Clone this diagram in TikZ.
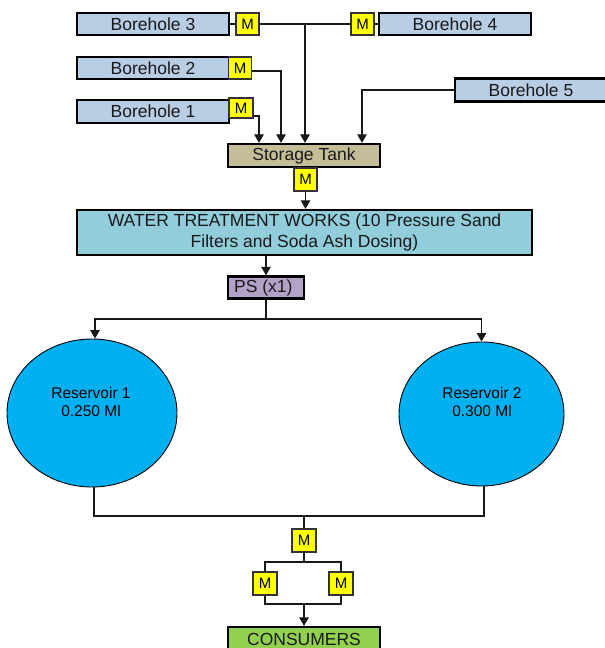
\documentclass[tikz,border=0pt]{standalone}
\usepackage{fontspec}
\setmainfont{Liberation Sans}
\usetikzlibrary{arrows.meta,shapes.geometric}
\definecolor{bhblue}{HTML}{B9CDE5}
\definecolor{tankcol}{HTML}{C4BD97}
\definecolor{wtwcol}{HTML}{92CDDC}
\definecolor{pscol}{HTML}{B3A2C7}
\definecolor{rescol}{HTML}{00B0F0}
\definecolor{concol}{HTML}{92D050}
\definecolor{mcol}{HTML}{FFFF00}
\tikzset{
  box/.style={draw=black, line width=2.3pt, inner sep=0pt, minimum height=22pt,
    font=\fontsize{17.5}{21}\selectfont, text=black!90},
  bore/.style={box, fill=bhblue, minimum width=152pt},
  meter/.style={draw=black!80, line width=1.1pt, fill=mcol, inner sep=0pt,
    minimum width=23pt, minimum height=22pt, font=\fontsize{15}{18}\selectfont},
  res/.style={ellipse, draw=black, line width=0.9pt, fill=rescol, inner sep=0pt,
    font=\fontsize{15.5}{18}\selectfont, align=center},
  pipe/.style={draw=black!90, line width=1.2pt},
  flow/.style={pipe, -{Triangle[width=9.5pt,length=8.5pt]}}
}
\begin{document}
\begin{tikzpicture}[x=1pt,y=-1pt]
\clip (0,0) rectangle (605,648);
\fill[white] (0,0) rectangle (605,648);

% boreholes and meters
\node[bore] (b3) at (153,24) {Borehole 3};
\node[meter] (m3) at (247.5,24) {M};
\node[meter] (m4) at (362.5,24) {M};
\node[bore] (b4) at (455,24) {Borehole 4};
\node[bore] (b2) at (153,68) {Borehole 2};
\node[meter] (m2) at (240,68) {M};
\node[bore, minimum height=23pt] (b1) at (153,111.5) {Borehole 1};
\node[meter, minimum width=24pt, minimum height=20pt] (m1) at (241,108) {M};
\node[bore, minimum height=23pt] (b5) at (531,90) {Borehole 5};

% storage tank
\node[box, fill=tankcol, minimum width=152pt, minimum height=23pt] (tank) at (304,155.5) {Storage Tank};
\node[meter, minimum height=23pt] (mt) at (305.5,179.5) {M};

% treatment works
\node[box, fill=wtwcol, minimum width=455pt, minimum height=45pt, align=center,
  font=\fontsize{17.5}{21}\selectfont] (wtw) at (304.5,232.5)
  {WATER TREATMENT WORKS (10 Pressure Sand\\Filters and Soda Ash Dosing)};

% pump station
\node[box, fill=pscol, minimum width=76pt] (ps) at (266,287.5) {};
\node[font=\fontsize{17.5}{21}\selectfont, text=black!90, anchor=west, inner sep=0pt] (pst) at (234,287.5) {PS (x1)};

% reservoirs
\node[res, minimum width=170pt, minimum height=148pt] (r1) at (92,413) {};
\node[font=\fontsize{15.5}{18}\selectfont, align=center] (r1t) at (91,402) {Reservoir 1\\0.250 Ml};
\node[res, minimum width=165pt, minimum height=144pt] (r2) at (481.5,414) {};
\node[font=\fontsize{15.5}{18}\selectfont, align=center] (r2t) at (482,402) {Reservoir 2\\0.300 Ml};

% meters to consumers
\node[meter, minimum width=24pt, minimum height=23pt] (mb) at (304,540.5) {M};
\node[meter, minimum width=24pt, minimum height=23pt] (ml) at (265,583.5) {M};
\node[meter, minimum width=24pt, minimum height=23pt] (mr) at (341,583.5) {M};
\node[box, fill=concol, minimum width=152pt, minimum height=24pt] (con) at (304,639) {CONSUMERS};

% connectors top
\coordinate (j3) at (305,24);
\draw[pipe] (b3.east) -- (m3.west);
\draw[pipe] (m3.east) -- (m4.west);
\draw[pipe] (m4.east) -- (b4.west);
\draw[flow] (j3) -- (j3 |- tank.north);
\draw[flow] ([yshift=-3pt]m2.east) -| ([xshift=-23pt]tank.north);
\draw[flow] ([yshift=-8pt]m1.east) -| ([xshift=-45pt]tank.north);
\draw[flow] (b5.west) -| ([xshift=58pt]tank.north);
\draw[flow] (mt.south) -- (mt.south |- wtw.north);
\draw[flow] (ps.north |- wtw.south) -- (ps.north);

% split to reservoirs
\coordinate (split) at (266,319);
\draw[pipe] (ps.south) -- (split);
\draw[flow] (split) -| ([xshift=3pt]r1.north);
\draw[flow] (split) -| (r2.north);

% reservoirs to consumers
\coordinate (jb) at (304,516);
\draw[pipe] ([xshift=2pt]r1.south) |- (jb) -| ([xshift=2.5pt]r2.south);
\draw[pipe] (jb) -- (mb.north);
\coordinate (ja) at (304,562);
\coordinate (jc) at (304,604);
\draw[pipe] (mb.south) -- (ja);
\draw[pipe] (ml.north) |- (ja) -| (mr.north);
\draw[pipe] (ml.south) |- (jc) -| (mr.south);
\draw[flow] (jc) -- (con.north);
\end{tikzpicture}
\end{document}
